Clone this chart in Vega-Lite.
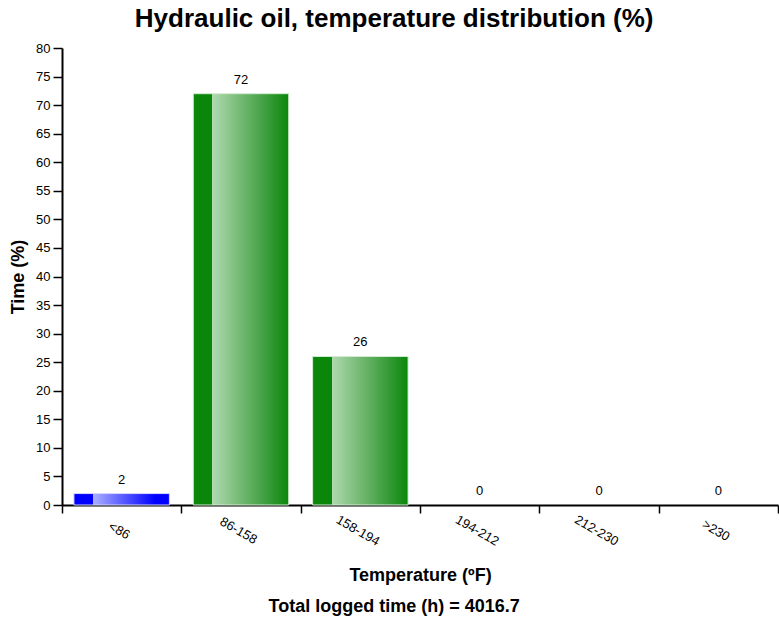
{
  "$schema": "https://vega.github.io/schema/vega-lite/v6.json",
  "padding": {"left": 9, "top": 6, "right": 1, "bottom": 2},
  "background": "white",
  "config": {"view": {"stroke": null}, "font": "Liberation Sans"},
  "title": {"text": "Hydraulic oil, temperature distribution (%)", "font": "Liberation Sans", "fontSize": 26, "fontWeight": "bold", "color": "black", "anchor": "middle", "frame": "bounds", "offset": 10},
  "data": {"values": [
    {"range": "<86", "pct": 2},
    {"range": "86-158", "pct": 72},
    {"range": "158-194", "pct": 26},
    {"range": "194-212", "pct": 0},
    {"range": "212-230", "pct": 0},
    {"range": ">230", "pct": 0}
  ]},
  "vconcat": [{
    "width": 716,
    "height": 457,
    "title": {"text": "Total logged time (h) = 4016.7", "orient": "bottom", "font": "Liberation Sans", "fontSize": 18, "fontWeight": "bold", "color": "black", "anchor": "middle", "frame": "bounds", "offset": 14},
    "encoding": {
      "x": {"field": "range", "type": "nominal", "sort": null,
        "scale": {"paddingInner": 0, "paddingOuter": 0},
        "axis": {"title": "Temperature (ºF)", "titleFontSize": 18, "titleFontWeight": "bold", "titleColor": "black", "titlePadding": 18,
          "labelAngle": 30, "labelAlign": "center", "labelBaseline": "top", "labelFontSize": 13, "labelColor": "black", "labelPadding": 12,
          "tickBand": "extent", "tickSize": 8, "tickColor": "black", "tickWidth": 1.5, "domainColor": "black", "domainWidth": 2}},
      "y": {"field": "pct", "type": "quantitative", "scale": {"domain": [0, 80]},
        "axis": {"title": "Time (%)", "titleFontSize": 18, "titleFontWeight": "bold", "titleColor": "black", "titlePadding": 8,
          "values": [0, 5, 10, 15, 20, 25, 30, 35, 40, 45, 50, 55, 60, 65, 70, 75, 80],
          "labelFontSize": 13, "labelColor": "black", "labelPadding": 3, "tickSize": 9, "tickColor": "black", "tickWidth": 1.5,
          "domainColor": "black", "domainWidth": 2, "grid": false}}
    },
    "layer": [
      {
        "transform": [{"filter": "datum.range === '<86'"}],
        "mark": {"type": "bar", "width": {"band": 0.8}, "stroke": "#d6d6ff", "strokeWidth": 1,
          "color": {"gradient": "linear", "x1": 0, "x2": 1, "y1": 0, "y2": 0, "stops": [
            {"offset": 0, "color": "#0000ff"}, {"offset": 0.2, "color": "#0000ff"},
            {"offset": 0.2, "color": "#aab0ff"}, {"offset": 0.85, "color": "#0000ff"}, {"offset": 1, "color": "#0000ff"}]}}
      },
      {
        "transform": [{"filter": "datum.range !== '<86' && datum.pct > 0"}],
        "mark": {"type": "bar", "width": {"band": 0.8}, "stroke": "#d2ecd2", "strokeWidth": 1,
          "color": {"gradient": "linear", "x1": 0, "x2": 1, "y1": 0, "y2": 0, "stops": [
            {"offset": 0, "color": "#0a870a"}, {"offset": 0.2, "color": "#0a870a"},
            {"offset": 0.2, "color": "#afd9af"}, {"offset": 0.6, "color": "#5fae5f"}, {"offset": 1, "color": "#0a870a"}]}}
      },
      {
        "mark": {"type": "text", "baseline": "bottom", "dy": -7, "fontSize": 13, "color": "black"},
        "encoding": {"text": {"field": "pct", "type": "quantitative"}}
      }
    ]
  }]
}
